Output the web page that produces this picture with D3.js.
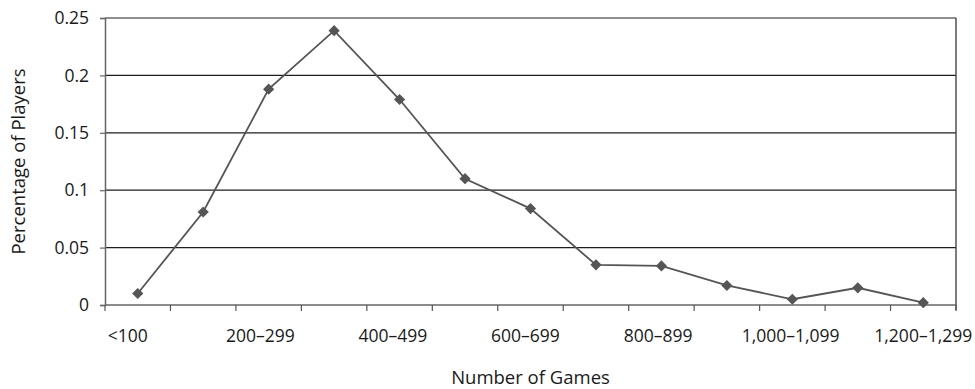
<!DOCTYPE html>
<html>
<head>
<meta charset="utf-8">
<script src="https://cdn.jsdelivr.net/npm/d3@7"></script>
<style>
  html, body { margin: 0; padding: 0; background: #fff; }
  svg { display: block; font-family: "Open Sans", "Noto Sans", sans-serif; }
</style>
</head>
<body>
<svg id="chart" width="975" height="389"></svg>
<script>
// Distribution of players by number of games played
const categories = ["<100", "100–199", "200–299", "300–399", "400–499", "500–599",
  "600–699", "700–799", "800–899", "900–999", "1,000–1,099", "1,100–1,199", "1,200–1,299"];
const shares = [0.010, 0.081, 0.188, 0.239, 0.179, 0.110, 0.084, 0.035, 0.034, 0.017, 0.005, 0.015, 0.002];
const yTicks = [0, 0.05, 0.1, 0.15, 0.2, 0.25];
const yTickLabels = ["0", "0.05", "0.1", "0.15", "0.2", "0.25"];
const xTitle = "Number of Games";
const yTitle = "Percentage of Players";

const svg = d3.select("#chart");
const margin = { top: 18, right: 19, bottom: 84, left: 105 };
const W = 975, H = 389;
const innerW = W - margin.left - margin.right;
const innerH = H - margin.top - margin.bottom;
const textColor = "#1a1a1a";
const fontSize = 17.5;

const x = d3.scaleBand().domain(categories).range([0, innerW]).padding(0);
const y = d3.scaleLinear().domain([0, 0.25]).range([innerH, 0]);

const g = svg.append("g").attr("transform", `translate(${margin.left},${margin.top})`);

// Horizontal gridlines
g.append("g")
  .selectAll("line")
  .data(yTicks.filter(d => d > 0))
  .join("line")
  .attr("x1", 0).attr("x2", innerW)
  .attr("y1", d => y(d)).attr("y2", d => y(d))
  .attr("stroke", "#1e1e1e").attr("stroke-width", 1.2);

// Right frame edge
g.append("line")
  .attr("x1", innerW).attr("x2", innerW)
  .attr("y1", 0).attr("y2", innerH + 5)
  .attr("stroke", "#444").attr("stroke-width", 1.4);

// Y axis
const yAxis = g.append("g")
  .call(d3.axisLeft(y).tickValues(yTicks)
    .tickFormat((d, i) => yTickLabels[i]).tickSize(5).tickPadding(11));
yAxis.select(".domain").attr("stroke", "#666").attr("stroke-width", 1.5);
yAxis.selectAll(".tick line").attr("stroke", "#666").attr("stroke-width", 1.2);
yAxis.selectAll(".tick text").attr("font-size", fontSize).attr("fill", textColor)
  .attr("font-family", "'Open Sans', sans-serif");

// X axis: tick marks on category boundaries
const boundaries = categories.map(c => x(c)).concat([innerW]);
const xAxisG = g.append("g").attr("transform", `translate(0,${innerH})`);
xAxisG.append("line")
  .attr("x1", 0).attr("x2", innerW).attr("y1", 0).attr("y2", 0)
  .attr("stroke", "#666").attr("stroke-width", 1.5);
xAxisG.selectAll("line.tk")
  .data(boundaries)
  .join("line").attr("class", "tk")
  .attr("x1", d => d).attr("x2", d => d)
  .attr("y1", 0).attr("y2", 6)
  .attr("stroke", "#555").attr("stroke-width", 1.2);

// Category labels, every other category
const shown = categories.filter((c, i) => i % 2 === 0);
const xl = d3.scalePoint().domain(shown)
  .range([x(shown[0]) + x.bandwidth() / 2 - 10, x(shown[shown.length - 1]) + x.bandwidth() / 2]);
xAxisG.selectAll("text.lbl")
  .data(shown)
  .join("text").attr("class", "lbl")
  .attr("x", d => xl(d))
  .attr("y", 37)
  .attr("text-anchor", "middle")
  .attr("font-size", fontSize)
  .attr("fill", textColor)
  .text(d => d);

// Data line
const line = d3.line()
  .x((d, i) => x(categories[i]) + x.bandwidth() / 2)
  .y(d => y(d));
g.append("path")
  .datum(shares)
  .attr("d", line)
  .attr("fill", "none")
  .attr("stroke", "#555")
  .attr("stroke-width", 1.8);

// Diamond markers
const diamond = d3.symbol().type(d3.symbolDiamond2).size(80);
g.selectAll("path.pt")
  .data(shares)
  .join("path").attr("class", "pt")
  .attr("transform", (d, i) => `translate(${x(categories[i]) + x.bandwidth() / 2},${y(d)})`)
  .attr("d", diamond)
  .attr("fill", "#555");

// Axis titles
svg.append("text")
  .attr("x", margin.left + (x(categories[6]) + x.bandwidth() / 2))
  .attr("y", 384)
  .attr("text-anchor", "middle")
  .attr("font-size", 18.5)
  .attr("fill", textColor)
  .text(xTitle);

svg.append("text")
  .attr("transform", `translate(25,${margin.top + innerH / 2}) rotate(-90)`)
  .attr("text-anchor", "middle")
  .attr("font-size", 18.5)
  .attr("fill", textColor)
  .text(yTitle);
</script>
</body>
</html>
